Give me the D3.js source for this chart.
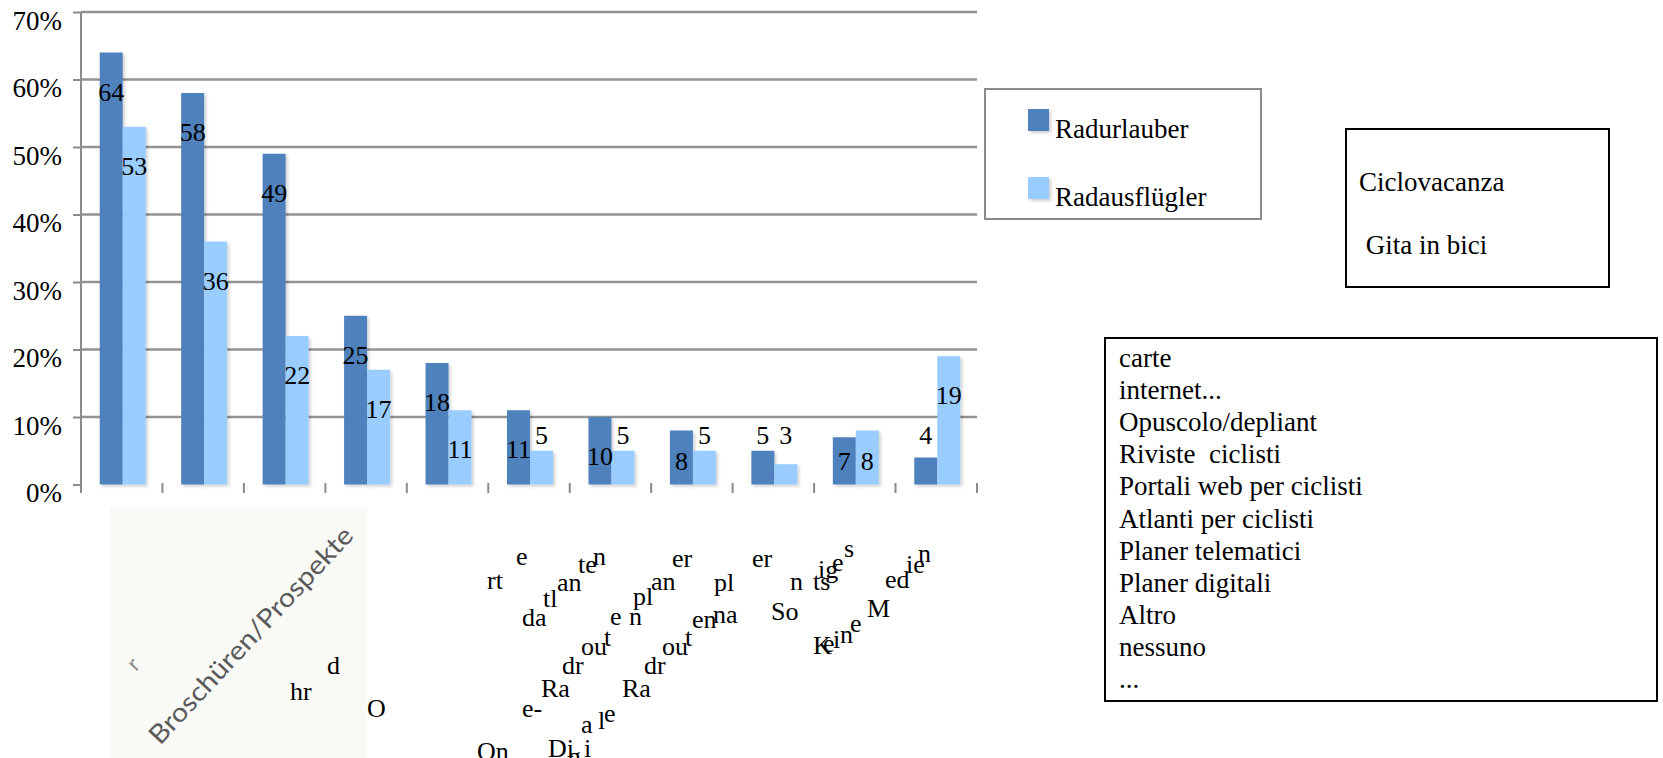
<!DOCTYPE html>
<meta charset="utf-8">
<style>
body { margin: 0; background: #fff; }
svg text { font-family: "Liberation Serif", "Times New Roman", serif; fill: #000; }
.grid line { stroke: #939393; stroke-width: 2.5; }
.axis line, .axis path { stroke: #8c8c8c; stroke-width: 2; }
.lbl { font-size: 26px; text-anchor: middle; }
.frag { font-size: 26px; }
.big { font-size: 27px; white-space: pre; }
</style>
<body>
<script src="https://d3js.org/d3.v7.min.js"></script>
<script>

// values (labels on the bars)
var categories = ["Karten", "Internet", "Broschüren/Prospekte", "Radzeitschriften", "Radportale",
                  "Radkarte", "Radatlanten", "Online-Radroutenplaner", "Digitale Radroutenplaner",
                  "Sonstiges", "Keine Medien"];
var seriesNames = ["Radurlauber", "Radausflügler"];
var radurlauber    = [64, 58, 49, 25, 18, 11, 10, 8, 5, 7, 4];
var radausfluegler = [53, 36, 22, 17, 11, 5, 5, 5, 3, 8, 19];
var yTicks = [0, 10, 20, 30, 40, 50, 60, 70];
var boxIt = ["Ciclovacanza", " Gita in bici"];
var listIt = ["carte", "internet...", "Opuscolo/depliant", "Riviste  ciclisti", "Portali web per ciclisti",
              "Atlanti per ciclisti", "Planer telematici", "Planer digitali", "Altro", "nessuno", "..."];

// broken pieces of the rotated axis labels, as they sit in the picture
var fragments = [
  ["hr", 290, 700], ["d", 327, 674], ["O", 367, 717],
  ["rt", 487, 589], ["e", 516, 565],
  ["da", 522, 626], ["tl", 543, 607], ["an", 557, 591], ["te", 578, 573], ["n", 593, 565],
  ["On", 477, 760], ["e-", 522, 717], ["Ra", 541, 697], ["dr", 562, 674], ["ou", 581, 655], ["t", 604, 646],
  ["e", 610, 625], ["n", 629, 625], ["pl", 633, 605], ["an", 651, 590], ["er", 672, 567],
  ["Di", 548, 757], ["g", 568, 765], ["i", 584, 757], ["a", 581, 733], ["l", 598, 729], ["e", 604, 722],
  ["Ra", 622, 697], ["dr", 644, 674], ["ou", 662, 655], ["t", 685, 646], ["en", 692, 628], ["na", 713, 623],
  ["pl", 714, 591], ["er", 752, 567],
  ["So", 771, 620], ["n", 790, 590], ["ts", 813, 590], ["ig", 818, 578], ["e", 832, 571], ["s", 844, 557],
  ["K", 813, 654], ["e", 823, 652], ["i", 833, 648], ["n", 840, 643], ["e", 850, 632], ["M", 867, 617],
  ["ed", 885, 588], ["ie", 906, 573], ["n", 918, 562]
];

var colors = ["#4f81bd", "#99ccff"];
var serif = "'Liberation Serif', 'Times New Roman', serif";

var svg = d3.select("body").append("svg")
    .attr("width", 1663)
    .attr("height", 758);

var defs = svg.append("defs");
var f = defs.append("filter").attr("id", "shadow").attr("x", "-20%").attr("y", "-5%")
    .attr("width", "150%").attr("height", "120%");
f.append("feDropShadow").attr("dx", 2).attr("dy", 2).attr("stdDeviation", 1.5)
    .attr("flood-color", "#000").attr("flood-opacity", 0.18);

var y = d3.scaleLinear().domain([0, 70]).range([484.5, 12]);
var x = d3.scaleBand().domain(categories).range([81, 977]);
var xs = d3.scaleBand().domain(seriesNames).range([-22, 24]);

// pale box behind the pasted axis label
svg.append("rect").attr("x", 110).attr("y", 508).attr("width", 257).attr("height", 250)
    .attr("fill", "#f9f9f6");

// gridlines
svg.append("g").attr("class", "grid")
  .selectAll("line").data(yTicks.slice(1)).enter().append("line")
    .attr("x1", 81).attr("x2", 977)
    .attr("y1", d => y(d)).attr("y2", d => y(d));

// y axis
var yAxis = d3.axisLeft(y).tickValues(yTicks).tickFormat(d => d + "%").tickSize(8).tickPadding(11);
var ga = svg.append("g").attr("class", "axis").attr("transform", "translate(81,0)").call(yAxis)
    .attr("font-family", serif).attr("font-size", 27);
ga.select(".domain").remove();
ga.selectAll("text").attr("dy", "0.63em")
    .style("font-family", serif).style("font-size", "27px").style("fill", "#000");
ga.append("line").attr("x1", 0).attr("x2", 0).attr("y1", y(70)).attr("y2", 493);

// x ticks on the band edges (no baseline in the picture)
var edges = categories.map(c => x(c)).concat([x.range()[1]]);
svg.append("g").attr("class", "axis")
  .selectAll("line").data(edges.slice(1)).enter().append("line")
    .attr("x1", d => d).attr("x2", d => d).attr("y1", 483).attr("y2", 493);

// bars
var rows = categories.map((c, i) => ({cat: c, vals: [radurlauber[i], radausfluegler[i]]}));
var groups = svg.selectAll(".grp").data(rows).enter().append("g")
    .attr("transform", d => "translate(" + (x(d.cat) + x.bandwidth() / 2) + ",0)");

groups.selectAll("rect").data(d => d.vals.map((v, j) => ({s: seriesNames[j], v: v, j: j})))
  .enter().append("rect")
    .attr("x", d => xs(d.s))
    .attr("width", xs.bandwidth())
    .attr("y", d => y(d.v))
    .attr("height", d => y(0) - y(d.v))
    .attr("fill", d => colors[d.j])
    .attr("filter", "url(#shadow)");

groups.selectAll("text").data(d => d.vals.map((v, j) => ({s: seriesNames[j], v: v})))
  .enter().append("text")
    .attr("class", "lbl")
    .attr("x", d => xs(d.s) + xs.bandwidth() / 2)
    .attr("y", d => d.v < 6 ? y(6) : Math.min(y(d.v) + 48, 470))
    .style("font-family", serif)
    .text(d => d.v);

// the rotated label that survived as a picture
svg.append("text")
    .attr("transform", "translate(160,746) rotate(-47)")
    .attr("textLength", 286).attr("lengthAdjust", "spacingAndGlyphs")
    .style("font-family", "Lato, 'Open Sans', sans-serif")
    .style("font-size", "26px")
    .style("fill", "#5a5a5a")
    .text(categories[2]);
svg.append("text")
    .attr("transform", "translate(136,672) rotate(-47)")
    .style("font-family", "Lato, 'Open Sans', sans-serif")
    .style("font-size", "22px")
    .style("fill", "#8a8a8a")
    .text("r");

// text fragments
svg.selectAll(".frag").data(fragments).enter().append("text")
    .attr("class", "frag")
    .attr("x", d => d[1]).attr("y", d => d[2])
    .style("font-family", serif)
    .text(d => d[0]);

// legend
svg.append("rect").attr("x", 985).attr("y", 89).attr("width", 276).attr("height", 130)
    .attr("fill", "#fff").attr("stroke", "#8a8a8a").attr("stroke-width", 2);
var lg = svg.selectAll(".lg").data(seriesNames).enter().append("g")
    .attr("transform", (d, i) => "translate(1028," + (109 + i * 68) + ")");
lg.append("rect").attr("width", 21).attr("height", 22).attr("fill", (d, i) => colors[i])
    .attr("filter", "url(#shadow)");
lg.append("text").attr("class", "big").attr("x", 27).attr("y", 29)
    .style("font-family", serif).text(d => d);

// Italian boxes
svg.append("rect").attr("x", 1346).attr("y", 129).attr("width", 263).attr("height", 158)
    .attr("fill", "none").attr("stroke", "#000").attr("stroke-width", 2);
svg.selectAll(".bi").data(boxIt).enter().append("text")
    .attr("class", "big").attr("x", 1359).attr("y", (d, i) => 191 + i * 63)
    .style("font-family", serif).text(d => d);

svg.append("rect").attr("x", 1105).attr("y", 338).attr("width", 552).attr("height", 363)
    .attr("fill", "none").attr("stroke", "#000").attr("stroke-width", 2);
svg.selectAll(".li").data(listIt).enter().append("text")
    .attr("class", "big").attr("x", 1119).attr("y", (d, i) => 367 + i * 32.1)
    .style("font-family", serif).text(d => d);

</script>
</body>
